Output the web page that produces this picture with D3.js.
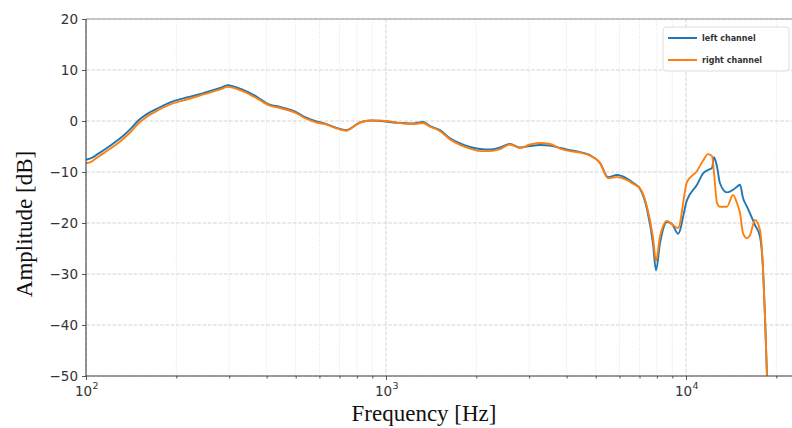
<!DOCTYPE html>
<html lang="en">
<head>
    <meta charset="UTF-8">
    <title>Frequency response</title>
    <style>
        body { margin: 0; background: #fff; }
        .tick text { font-family: "DejaVu Sans", sans-serif; font-size: 13.5px; fill: #333; }
        .axis_label { font-family: "Liberation Serif", "Times New Roman", serif; font-size: 23px; fill: #111; }
        .legend_text { font-family: "DejaVu Sans", sans-serif; font-size: 8px; font-weight: bold; fill: #333; }
    </style>
    <script src="https://cdn.jsdelivr.net/npm/d3@7"></script>
</head>
<body>
<svg width="792" height="428"></svg>
<script>

    // frequency points [Hz] and measured amplitude [dB] of both channels
    const freqs = [100,104,110,120,130,140,150,160,175,190,210,234,260,280,297,310,334,370,410,440,467,500,540,587,634,680,739,770,800,840,900,955,1000,1060,1140,1230,1328,1402,1514,1635,1765,1905,2057,2221,2399,2590,2797,3020,3261,3521,3802,4105,4433,4786,5168,5495,5888,6358,6658,7025,7413,7762,7943,8190,8645,8983,9404,10077,10880,11390,11840,12210,12400,12690,12980,13700,14340,14790,15140,15490,15970,16340,16980,17650,18060,18340,18620,18900];

    const left_channel = [-7.6,-7.3,-6.4,-4.9,-3.4,-1.7,0.2,1.4,2.6,3.6,4.4,5.1,5.9,6.5,7.0,6.8,6.1,4.8,3.2,2.8,2.4,1.8,0.7,-0.1,-0.6,-1.3,-1.8,-1.3,-0.6,-0.1,0.1,0.0,-0.1,-0.3,-0.4,-0.5,-0.2,-1.0,-1.8,-3.4,-4.4,-5.1,-5.5,-5.6,-5.2,-4.5,-5.2,-4.9,-4.7,-4.8,-5.3,-5.7,-6.1,-6.7,-8.2,-11.0,-10.6,-11.3,-12.1,-13.3,-17.3,-24.0,-29.3,-24.0,-19.8,-20.2,-22.1,-15.5,-12.5,-10.3,-9.6,-9.2,-7.1,-9.0,-12.2,-14.0,-13.5,-12.9,-12.5,-15.1,-16.8,-18.1,-20.4,-22.7,-29.0,-38.4,-50.0,-56];

    const right_channel = [-8.3,-8.0,-7.0,-5.5,-4.0,-2.3,-0.4,0.9,2.2,3.2,4.0,4.8,5.6,6.2,6.7,6.5,5.8,4.5,3.0,2.6,2.2,1.6,0.5,-0.3,-0.7,-1.4,-1.9,-1.3,-0.6,-0.1,0.1,0.1,0.0,-0.2,-0.5,-0.6,-0.4,-1.1,-2.0,-3.6,-4.7,-5.4,-5.9,-5.9,-5.5,-4.6,-5.3,-4.6,-4.3,-4.5,-5.4,-5.9,-6.2,-6.8,-8.2,-11.2,-11.0,-11.6,-12.3,-13.2,-16.8,-22.8,-27.4,-22.7,-19.6,-20.3,-21.0,-12.0,-9.8,-7.8,-6.5,-6.9,-10.2,-16.1,-16.8,-16.8,-14.5,-16.1,-18.1,-22.0,-23.0,-22.4,-19.4,-21.4,-29.0,-38.4,-50.0,-56];

    const series_names = ["left channel", "right channel"];
    const series_colors = ["#1f77b4", "#ff7f0e"];

    const y_ticks = [20, 10, 0, -10, -20, -30, -40, -50];
    const x_major = [100, 1000, 10000];
    const x_major_exp = ["2", "3", "4"];

    let svg = d3.select("svg");

    const m_left = 86, m_right = 792, m_top = 19, m_bottom = 376;

    // the picture is cut on the right, so the domain goes past 2e4
    let x = d3.scaleLog().domain([100, 22560]).range([m_left, m_right]);
    let y = d3.scaleLinear().domain([-50, 20]).range([m_bottom, m_top]);

    let x_minor = [];
    [100, 1000, 10000].forEach(function (dec) {
        d3.range(2, 10).forEach(function (m) {
            if (dec * m < 22560) x_minor.push(dec * m);
        });
    });

    svg.append("defs").append("clipPath").attr("id", "plot_clip")
        .append("rect").attr("x", m_left).attr("y", m_top)
        .attr("width", m_right - m_left).attr("height", m_bottom - m_top);

    // grid
    let grid = svg.append("g").attr("class", "grid");
    grid.selectAll(".minor_v").data(x_minor).enter().append("line")
        .attr("x1", d => x(d)).attr("x2", d => x(d))
        .attr("y1", m_top).attr("y2", m_bottom)
        .attr("stroke", "#d9d9d9").attr("stroke-width", 0.8)
        .attr("stroke-dasharray", "1,1.6");
    grid.selectAll(".major_v").data(x_major).enter().append("line")
        .attr("x1", d => x(d)).attr("x2", d => x(d))
        .attr("y1", m_top).attr("y2", m_bottom)
        .attr("stroke", "#cfcfcf").attr("stroke-width", 0.9)
        .attr("stroke-dasharray", "3.7,1.6");
    grid.selectAll(".major_h").data(y_ticks).enter().append("line")
        .attr("x1", m_left).attr("x2", m_right)
        .attr("y1", d => y(d)).attr("y2", d => y(d))
        .attr("stroke", "#cfcfcf").attr("stroke-width", 0.9)
        .attr("stroke-dasharray", "3.7,1.6");

    // curves
    let series = [left_channel, right_channel];
    let line = d3.line()
        .x(function (d, i) { return x(freqs[i]); })
        .y(function (d) { return y(d); })
        .curve(d3.curveMonotoneX);

    svg.append("g").attr("clip-path", "url(#plot_clip)")
        .selectAll("path").data(series).enter().append("path")
        .attr("fill", "none")
        .attr("stroke", (d, i) => series_colors[i])
        .attr("stroke-width", 1.9)
        .attr("stroke-linejoin", "round")
        .attr("d", d => line(d));

    // axes
    let y_axis = svg.append("g").attr("transform", `translate(${m_left},0)`)
        .call(d3.axisLeft(y).tickValues(y_ticks).tickSize(4).tickPadding(4).tickFormat(d3.format("d")));
    let x_axis = svg.append("g").attr("transform", `translate(0,${m_bottom})`)
        .call(d3.axisBottom(x).tickValues(x_major).tickSize(4).tickFormat(""));
    let x_axis_minor = svg.append("g").attr("transform", `translate(0,${m_bottom})`)
        .call(d3.axisBottom(x).tickValues(x_minor).tickSize(2.5).tickFormat(""));

    [y_axis, x_axis, x_axis_minor].forEach(function (ax) {
        ax.selectAll(".domain").remove();
        ax.selectAll(".tick line").attr("stroke", "#444").attr("stroke-width", 0.9);
    });

    // 10^n labels: base and exponent as two texts
    x_axis.selectAll(".tick text").remove();
    x_axis.selectAll(".tick").append("text")
        .attr("x", -3).attr("y", 20).attr("fill", "#333").attr("text-anchor", "middle")
        .text("10");
    x_axis.selectAll(".tick").append("text")
        .attr("x", 6).attr("y", 13).attr("fill", "#333").attr("text-anchor", "start")
        .style("font-size", "9.5px")
        .text((d, i) => x_major_exp[i]);

    // spines
    svg.append("line").attr("x1", m_left).attr("x2", m_right).attr("y1", m_top).attr("y2", m_top)
        .attr("stroke", "#999").attr("stroke-width", 1);
    svg.append("line").attr("x1", m_left).attr("x2", m_left).attr("y1", m_top).attr("y2", m_bottom)
        .attr("stroke", "#444").attr("stroke-width", 1.1);
    svg.append("line").attr("x1", m_left).attr("x2", m_right).attr("y1", m_bottom).attr("y2", m_bottom)
        .attr("stroke", "#444").attr("stroke-width", 1.1);

    // axis labels
    svg.append("text").attr("class", "axis_label")
        .attr("x", 424).attr("y", 421).attr("text-anchor", "middle")
        .text("Frequency [Hz]");
    svg.append("text").attr("class", "axis_label")
        .attr("transform", "translate(32,224)rotate(-90)").attr("text-anchor", "middle")
        .text("Amplitude [dB]");

    // legend
    let legend = svg.append("g").attr("class", "legends").attr("transform", "translate(663,27)");
    legend.append("rect").attr("width", 126).attr("height", 44).attr("rx", 3)
        .attr("fill", "#fff").attr("fill-opacity", 0.85)
        .attr("stroke", "#d6d6d6").attr("stroke-width", 0.8);
    let items = legend.selectAll(".item").data(series_names).enter().append("g")
        .attr("transform", (d, i) => `translate(0,${11 + i * 22})`);
    items.append("line").attr("x1", 5).attr("x2", 34)
        .attr("stroke", (d, i) => series_colors[i]).attr("stroke-width", 2);
    items.append("text").attr("class", "legend_text").attr("x", 39).attr("dy", "0.35em")
        .text(d => d);

</script>
</body>
</html>
